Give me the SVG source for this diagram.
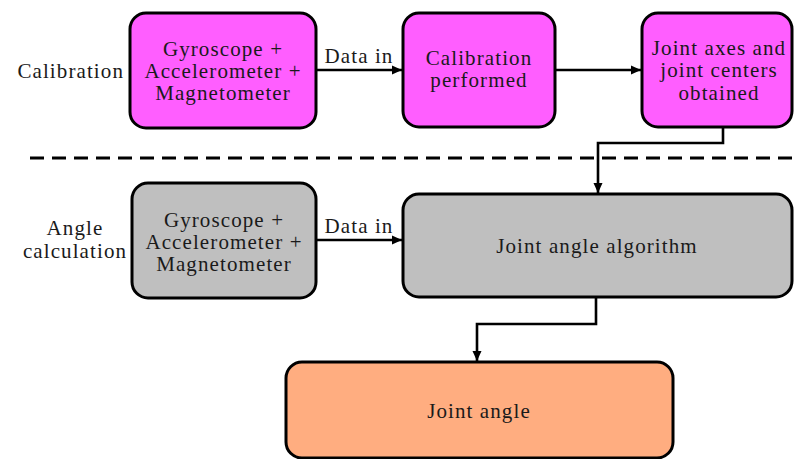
<svg xmlns="http://www.w3.org/2000/svg" width="794" height="459" viewBox="0 0 794 459">
<defs>
<marker id="ah" markerUnits="userSpaceOnUse" markerWidth="10" markerHeight="10" viewBox="0 0 10 10" refX="10" refY="5" orient="auto">
<path d="M0,0.5 L10,5 L0,9.5 Z" fill="#000"/>
</marker>
<style>
text{font-family:"Liberation Serif","Times New Roman",serif;font-size:21px;letter-spacing:1.1px;fill:#1a1a1a;text-anchor:middle}
.box{stroke:#000;stroke-width:3}
.mag{fill:#FF5EFF}
.gray{fill:#BFBFBF}
.orange{fill:#FFAD80}
.conn{fill:none;stroke:#000;stroke-width:2.6}
.lbl{text-anchor:end}
</style>
</defs>
<rect width="794" height="459" fill="#fff"/>
<line x1="30" y1="158" x2="794" y2="158" stroke="#000" stroke-width="3" stroke-dasharray="14 8"/>
<g id="label-calibration"><text class="lbl" x="124" y="78">Calibration</text></g>
<g id="label-angle"><text x="75" y="235">Angle</text><text x="75" y="258">calculation</text></g>
<g id="cal-sensors">
<rect class="box mag" x="130" y="13" width="186" height="115" rx="16"/>
<text x="223" y="56">Gyroscope +</text>
<text x="223" y="78">Accelerometer +</text>
<text x="223" y="100">Magnetometer</text>
</g>
<g id="cal-performed">
<rect class="box mag" x="403" y="13" width="152" height="114" rx="16"/>
<text x="479" y="65">Calibration</text>
<text x="479" y="87">performed</text>
</g>
<g id="joint-axes">
<rect class="box mag" x="642" y="13" width="150" height="114" rx="16"/>
<text x="719" y="55">Joint axes and</text>
<text x="719" y="77">joint centers</text>
<text x="719" y="100">obtained</text>
</g>
<g id="ang-sensors">
<rect class="box gray" x="132" y="183" width="184" height="115" rx="16"/>
<text x="224" y="227">Gyroscope +</text>
<text x="224" y="249">Accelerometer +</text>
<text x="224" y="271">Magnetometer</text>
</g>
<g id="algorithm">
<rect class="box gray" x="403" y="194" width="389" height="103" rx="16"/>
<text x="597" y="253">Joint angle algorithm</text>
</g>
<g id="joint-angle">
<rect class="box orange" x="286" y="362" width="387" height="96" rx="16"/>
<text x="479" y="418">Joint angle</text>
</g>
<g id="connectors">
<line class="conn" x1="316" y1="70" x2="402" y2="70" marker-end="url(#ah)"/>
<text x="359" y="63">Data in</text>
<line class="conn" x1="555" y1="70" x2="641" y2="70" marker-end="url(#ah)"/>
<polyline class="conn" points="723,127 723,143 598,143 598,193" marker-end="url(#ah)"/>
<line class="conn" x1="316" y1="240" x2="402" y2="240" marker-end="url(#ah)"/>
<text x="359" y="233">Data in</text>
<polyline class="conn" points="596,297 596,324 477,324 477,361" marker-end="url(#ah)"/>
</g>
</svg>
